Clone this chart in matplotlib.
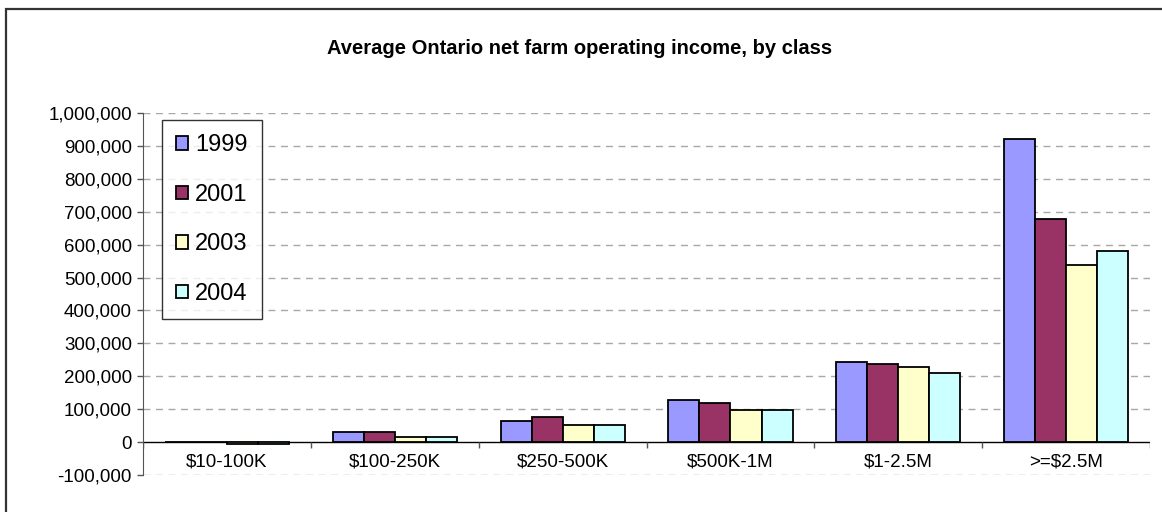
import numpy as np
import matplotlib
matplotlib.use("Agg")
import matplotlib.pyplot as plt
from matplotlib.patches import Rectangle
from matplotlib.ticker import FuncFormatter

plt.rcParams['font.family'] = ['Liberation Sans', 'DejaVu Sans']

# average net farm operating income by revenue class
classes = ['$10-100K', '$100-250K', '$250-500K', '$500K-1M', '$1-2.5M', '>=$2.5M']
years = ['1999', '2001', '2003', '2004']
inc_1999 = [0, 30000, 64000, 127000, 243000, 921000]
inc_2001 = [0, 30000, 77000, 119000, 236000, 678000]
inc_2003 = [-7000, 15000, 52000, 97000, 228000, 538000]
inc_2004 = [-7000, 15000, 52000, 96000, 211000, 580000]
colors = ['#9999FF', '#993366', '#FFFFCC', '#CCFFFF']

series = [inc_1999, inc_2001, inc_2003, inc_2004]

fig = plt.figure(figsize=(11.62, 5.12), dpi=100)
ax = fig.add_axes([0.1231, 0.0723, 0.8666, 0.7070])

x = np.arange(len(classes))
w = 0.185
for i, (vals, yr, c) in enumerate(zip(series, years, colors)):
    ax.bar(x + (i - 1.5) * w, vals, w, color=c, edgecolor='black',
           linewidth=1.3, label=yr, zorder=3)

ax.set_xlim(-0.5, len(classes) - 0.5)
ax.set_ylim(-100000, 1000000)
ax.set_yticks(np.arange(-100000, 1000001, 100000))
ax.yaxis.set_major_formatter(FuncFormatter(lambda v, p: f'{int(v):,}'))
ax.tick_params(axis='y', labelsize=13.5, length=4, width=1, color='#555555', pad=4)
ax.set_xticks([])

for s in ['top', 'right', 'bottom']:
    ax.spines[s].set_visible(False)
ax.spines['left'].set_color('#555555')

# dashed grid, solid zero line
for v in np.arange(-100000, 1000001, 100000):
    if v != 0:
        ax.axhline(v, color='#a8a8a8', lw=1, ls=(0, (5, 4)), zorder=1)
ax.axhline(0, color='black', lw=1, zorder=2)

# category separators and labels under the zero line
ax.vlines(np.arange(len(classes) + 1) - 0.5, -18000, 0, color='#555555', lw=1, zorder=2)
for xi, lab in zip(x, classes):
    ax.text(xi, -61000, lab, ha='center', va='center', fontsize=13.5)

fig.text(0.499, 0.906, 'Average Ontario net farm operating income, by class',
         ha='center', va='center', fontsize=14.5, fontweight='bold')

leg = ax.legend(loc='upper left', bbox_to_anchor=(0.1394, 0.7656),
                bbox_transform=fig.transFigure, borderaxespad=0, fontsize=17,
                labelspacing=1.17, handlelength=0.5, handleheight=0.5,
                handletextpad=0.3, borderpad=0.6, fancybox=False)
leg.get_frame().set_edgecolor('black')
leg.get_frame().set_linewidth(1)

# chart area border
fig.add_artist(Rectangle((6 / 1162, -0.1), 1.2, 1.1 - 9 / 512,
                         transform=fig.transFigure, fill=False,
                         edgecolor='#333333', lw=1.6))

fig.savefig('out.png', dpi=100)
